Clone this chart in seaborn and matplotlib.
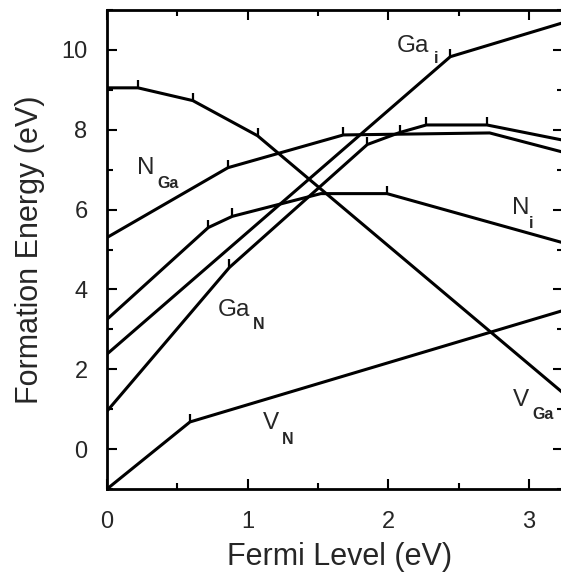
"""
Formation energy of native defects in GaN vs Fermi level.
"""

import seaborn as sns
import matplotlib.pyplot as plt
from matplotlib.ticker import MultipleLocator

# =============================
# DATA
# =============================

vga_x = [0.0, 0.22, 0.61, 1.07, 3.24]
vga_y = [9.05, 9.05, 8.73, 7.85, 1.41]
vga_ticks = [1, 2, 3]

nga_x = [0.0, 0.86, 1.68, 2.72, 3.24]
nga_y = [5.30, 7.05, 7.87, 7.92, 7.44]
nga_ticks = [1, 2]

gan_x = [0.0, 0.87, 1.85, 2.08, 2.27, 2.70, 3.24]
gan_y = [0.95, 4.55, 7.63, 7.93, 8.12, 8.12, 7.74]
gan_ticks = [1, 2, 3, 4, 5]

gai_x = [0.0, 2.44, 3.24]
gai_y = [2.38, 9.83, 10.68]
gai_ticks = [1]

ni_x = [0.0, 0.72, 0.89, 1.52, 1.99, 3.24]
ni_y = [3.25, 5.55, 5.83, 6.40, 6.40, 5.17]
ni_ticks = [1, 2, 4]

vn_x = [0.0, 0.59, 3.24]
vn_y = [-1.0, 0.68, 3.47]
vn_ticks = [1]

series = [
    (vga_x, vga_y, vga_ticks),
    (nga_x, nga_y, nga_ticks),
    (gan_x, gan_y, gan_ticks),
    (gai_x, gai_y, gai_ticks),
    (ni_x, ni_y, ni_ticks),
    (vn_x, vn_y, vn_ticks),
]

# label: (main text, subscript, main pos, sub pos)
labels = [
    ("Ga", "i", (2.06, 9.95), (2.32, 9.67)),
    ("N", "Ga", (0.21, 6.90), (0.36, 6.55)),
    ("Ga", "N", (0.79, 3.33), (1.04, 3.00)),
    ("N", "i", (2.88, 5.88), (3.00, 5.55)),
    ("V", "N", (1.11, 0.50), (1.24, 0.13)),
    ("V", "Ga", (2.886, 1.08), (3.02, 0.75)),
]

# =============================
# STYLE
# =============================

sns.set_style("ticks")
plt.rcParams["font.family"] = ["Liberation Sans", "DejaVu Sans"]

fig = plt.figure(figsize=(5.61, 5.73), dpi=100)
W, H = 561, 573
ax = fig.add_axes([107 / W, 1 - 489 / H, (563 - 107) / W, (489 - 10) / H])

# =============================
# LINES
# =============================

for xs, ys, tk in series:
    sns.lineplot(
        x=xs, y=ys, ax=ax, sort=False, estimator=None,
        color="black", lw=2.2,
        marker=2, markevery=tk, ms=6,
        markeredgecolor="black", markeredgewidth=1.6,
    )

for main, sub, p_main, p_sub in labels:
    ax.text(*p_main, main, fontsize=17.5, ha="left", va="baseline")
    ax.text(*p_sub, sub, fontsize=11.5, fontweight="bold",
            ha="left", va="baseline")

# =============================
# AXES
# =============================

ax.set_xlim(0, 3.241)
ax.set_ylim(-1, 11)
ax.xaxis.set_major_locator(MultipleLocator(1))
ax.xaxis.set_minor_locator(MultipleLocator(0.5))
ax.yaxis.set_major_locator(MultipleLocator(2))
ax.yaxis.set_minor_locator(MultipleLocator(1))
ax.tick_params(which="both", direction="in", top=True, right=True,
               width=1.5, color="black")
ax.tick_params(which="major", length=7, labelsize=17)
ax.tick_params(axis="x", which="major", pad=16)
ax.tick_params(axis="y", which="major", pad=14)
ax.tick_params(which="minor", length=4)

for s in ax.spines.values():
    s.set_linewidth(2)
    s.set_color("black")

ax.set_xlabel("Fermi Level (eV)", fontsize=22)
ax.set_ylabel("Formation Energy (eV)", fontsize=22)
ax.xaxis.set_label_coords(0.511, -0.11)
ax.yaxis.set_label_coords(-0.137, 0.5)

fig.savefig("out.png", dpi=100)
